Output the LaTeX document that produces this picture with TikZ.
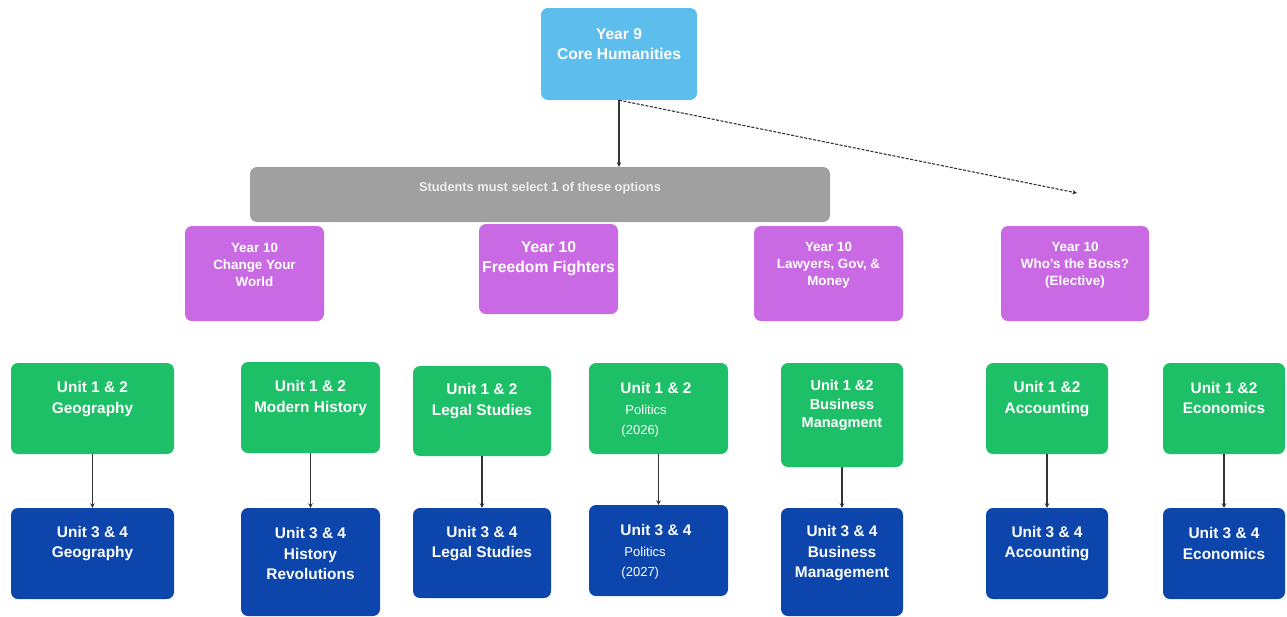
\documentclass[tikz,border=0pt]{standalone}
\usepackage{fontspec}
\setmainfont{Liberation Sans}
\usetikzlibrary{arrows.meta}
\definecolor{coreblue}{HTML}{5DBDEC}
\definecolor{bargray}{HTML}{A0A0A0}
\definecolor{optpurple}{HTML}{C96AE4}
\definecolor{unitgreen}{HTML}{1DBF67}
\definecolor{unitblue}{HTML}{0C45AC}
\definecolor{linkgray}{HTML}{333333}
\tikzset{
  bx/.style n args={3}{fill=#1, draw=none, rounded corners=7pt, inner sep=0pt,
    minimum width=#2, minimum height=#3},
  lbl/.style={text=white, align=center, inner sep=0pt,
    font=\bfseries\fontsize{15.4}{20.5}\selectfont},
  small/.style={lbl, font=\bfseries\fontsize{13.4}{17}\selectfont},
  link/.style={draw=linkgray, line width=1.2pt, -{Stealth[length=4.5pt,width=4.5pt]}},
}
\newcommand\polfont{\mdseries\fontsize{13}{20}\selectfont}
\begin{document}
\begin{tikzpicture}[x=1pt, y=-1pt]
\useasboundingbox (0,0) rectangle (1287,616);

% Year 9 core and the selection bar
\node[bx={coreblue}{156pt}{92pt}] (y9) at (619,54) {};
\node[lbl, font=\bfseries\fontsize{15.6}{20}\selectfont] (y9t) at (619,44) {Year 9\\Core Humanities};
\node[bx={bargray}{580pt}{55pt}] (bar) at (540,194.5) {};
\node[lbl, text=white!93!black, font=\bfseries\fontsize{12.8}{14}\selectfont] (bart) at (540,188) {Students must select 1 of these options};

% Year 10 options
\node[bx={optpurple}{139pt}{95pt}] (p1) at (254.5,273.5) {};
\node[small] (p1t) at (254.5,265) {Year 10\\Change Your\\World};
\node[bx={optpurple}{139pt}{90pt}] (p2) at (548.5,269) {};
\node[lbl, font=\bfseries\fontsize{15.7}{20}\selectfont] (p2t) at (548.5,259) {Year 10\\Freedom Fighters};
\node[bx={optpurple}{149pt}{95pt}] (p3) at (828.5,273.5) {};
\node[small] (p3t) at (828.5,265) {Year 10\\Lawyers, Gov, \&\\Money};
\node[bx={optpurple}{148pt}{95pt}] (p4) at (1075,273.5) {};
\node[small] (p4t) at (1075,265) {Year 10\\Who's the Boss?\\(Elective)};

% Unit 1 & 2 studies
\node[bx={unitgreen}{163pt}{91pt}] (g1) at (92.5,408.5) {};
\node[lbl] (g1t) at (92.5,399) {Unit 1 \& 2\\Geography};
\node[bx={unitgreen}{139pt}{91pt}] (g2) at (310.5,407.5) {};
\node[lbl] (g2t) at (310.5,398) {Unit 1 \& 2\\Modern History};
\node[bx={unitgreen}{138pt}{90pt}] (g3) at (482,411) {};
\node[lbl] (g3t) at (482,401) {Unit 1 \& 2\\Legal Studies};
\node[bx={unitgreen}{139pt}{91pt}] (g4) at (658.5,408.5) {};
\node[lbl, align=left] (g4t) at (656,410) {Unit 1 \& 2\\{\polfont\hspace{5pt}Politics}\\{\polfont\hspace{1pt}(2026)}};
\node[bx={unitgreen}{122pt}{104pt}] (g5) at (842,415) {};
\node[lbl, font=\bfseries\fontsize{14.5}{18.5}\selectfont] (g5t) at (842,405.5) {Unit 1 \&2\\Business\\Managment};
\node[bx={unitgreen}{122pt}{91pt}] (g6) at (1047,408.5) {};
\node[lbl] (g6t) at (1047,399) {Unit 1 \&2\\Accounting};
\node[bx={unitgreen}{122pt}{91pt}] (g7) at (1224,408.5) {};
\node[lbl] (g7t) at (1224,398) {Unit 1 \&2\\Economics};

% Unit 3 & 4 studies
\node[bx={unitblue}{163pt}{91pt}] (b1) at (92.5,553.5) {};
\node[lbl] (b1t) at (92.5,543.5) {Unit 3 \& 4\\Geography};
\node[bx={unitblue}{139pt}{108pt}] (b2) at (310.5,562) {};
\node[lbl] (b2t) at (310.5,553.5) {Unit 3 \& 4\\History\\Revolutions};
\node[bx={unitblue}{138pt}{90pt}] (b3) at (482,553) {};
\node[lbl] (b3t) at (482,543.5) {Unit 3 \& 4\\Legal Studies};
\node[bx={unitblue}{139pt}{91pt}] (b4) at (658.5,550.5) {};
\node[lbl, align=left] (b4t) at (656,552) {Unit 3 \& 4\\{\polfont\hspace{4pt}Politics}\\{\polfont\hspace{1pt}(2027)}};
\node[bx={unitblue}{122pt}{108pt}] (b5) at (842,562) {};
\node[lbl] (b5t) at (842,553.5) {Unit 3 \& 4\\Business\\Management};
\node[bx={unitblue}{122pt}{91pt}] (b6) at (1047,553.5) {};
\node[lbl] (b6t) at (1047,543.5) {Unit 3 \& 4\\Accounting};
\node[bx={unitblue}{122pt}{91pt}] (b7) at (1224,553.5) {};
\node[lbl] (b7t) at (1224,543.5) {Unit 3 \& 4\\Economics};

% Connectors
\coordinate (elect) at (1077,193);
\draw[link] (y9.south) -- (y9.south |- bar.north);
\draw[link, dash pattern=on 3pt off 1.5pt, line width=1.1pt] (y9.south) -- (elect);
\foreach \i in {1,...,7} {
  \draw[link] (g\i.south) -- (b\i.north);
}
\end{tikzpicture}
\end{document}
